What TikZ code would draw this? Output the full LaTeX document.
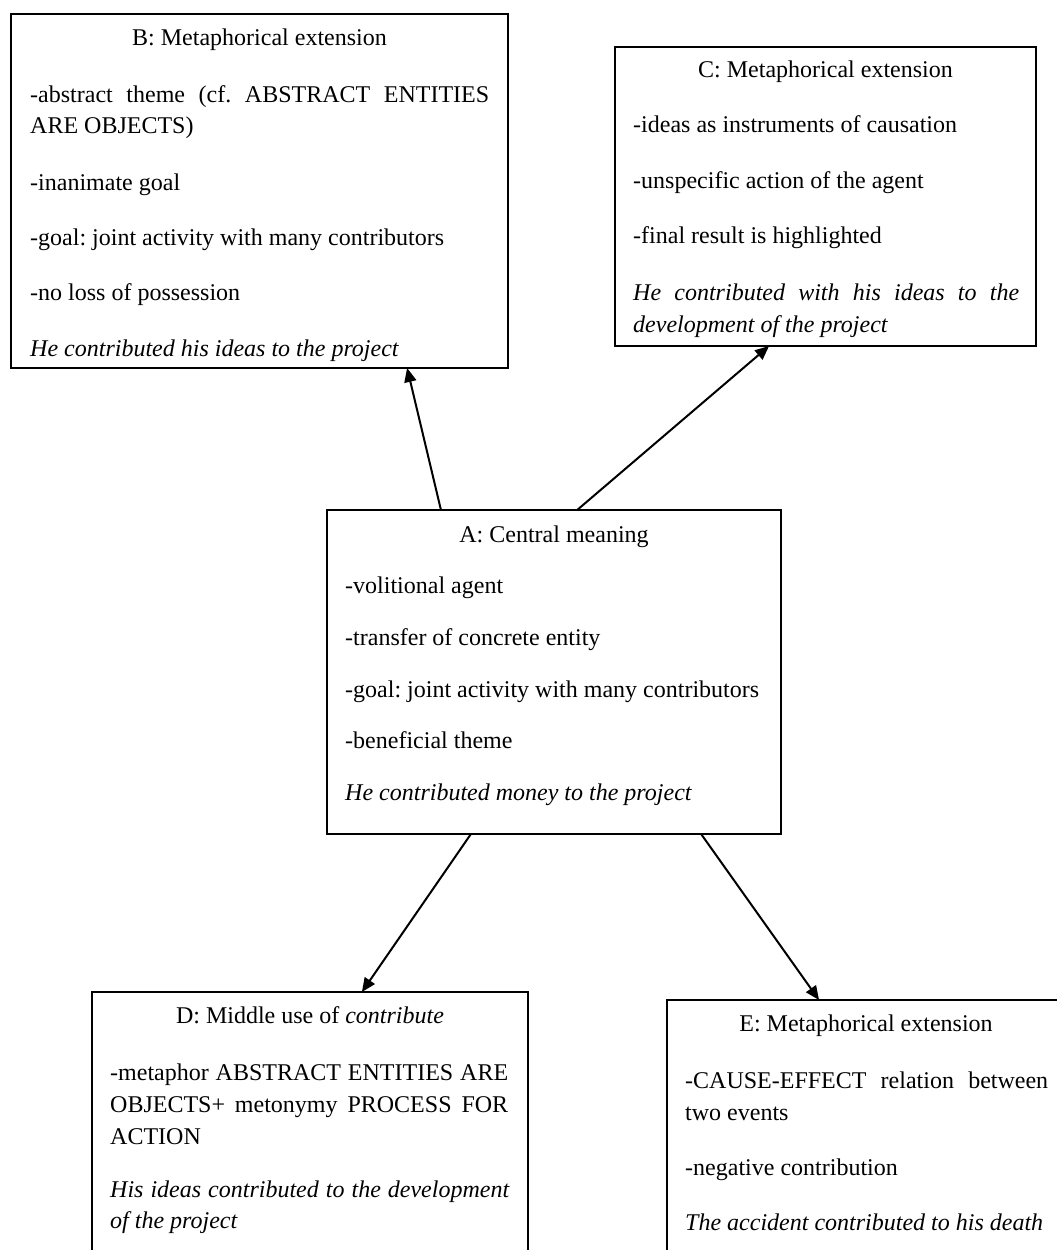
\documentclass[tikz,border=0pt]{standalone}
\usepackage{fontspec}
\setmainfont{Liberation Serif}
\usetikzlibrary{calc,arrows.meta}
\frenchspacing

\begin{document}
\begin{tikzpicture}[x=1pt,y=-1pt,
  box/.style={draw, line width=1.6pt, inner sep=0pt, outer sep=0pt, anchor=north west},
  line/.style={anchor=base west, inner sep=0pt, font=\fontsize{24}{28}\selectfont},
  title/.style={anchor=base, inner sep=0pt, font=\fontsize{24}{28}\selectfont},
  example/.style={line, font=\fontsize{24}{28}\selectfont\itshape},
  link/.style={-{Triangle[length=14pt,width=12pt]}, line width=2pt}]

\useasboundingbox (0,0) rectangle (1057,1250);
\clip (0,0) rectangle (1057,1250);
\fill[white] (0,0) rectangle (1057,1250);

% frames of the five senses
\node[box, minimum width=497pt, minimum height=354pt] (B) at (11,14) {};
\node[box, minimum width=421pt, minimum height=299pt] (C) at (615,47) {};
\node[box, minimum width=454pt, minimum height=324pt] (A) at (327,510) {};
\node[box, minimum width=436pt, minimum height=300pt] (D) at (92,992) {};
\node[box, minimum width=398pt, minimum height=300pt] (E) at (667,1000) {};

% B: metaphorical extension
\node[title] (Bt) at (259.5,45) {B: Metaphorical extension};
\node[line] (B1) at (30,102) {\makebox[459pt][s]{-abstract theme (cf. ABSTRACT ENTITIES}};
\node[line] (B2) at (30,133) {ARE OBJECTS)};
\node[line] (B3) at (30,190) {-inanimate goal};
\node[line] (B4) at (30,245) {-goal: joint activity with many contributors};
\node[line] (B5) at (30,300) {-no loss of possession};
\node[example] (B6) at (30,356) {He contributed his ideas to the project};

% C: metaphorical extension
\node[title] (Ct) at (825.5,77) {C: Metaphorical extension};
\node[line] (C1) at (633,132) {-ideas as instruments of causation};
\node[line] (C2) at (633,188) {-unspecific action of the agent};
\node[line] (C3) at (633,243) {-final result is highlighted};
\node[example] (C4) at (633,300) {\makebox[386pt][s]{He contributed with his ideas to the}};
\node[example] (C5) at (633,332) {development of the project};

% A: central meaning
\node[title] (At) at (554,542) {A: Central meaning};
\node[line] (A1) at (345,593) {-volitional agent};
\node[line] (A2) at (345,645) {-transfer of concrete entity};
\node[line] (A3) at (345,697) {-goal: joint activity with many contributors};
\node[line] (A4) at (345,748) {-beneficial theme};
\node[example] (A5) at (345,800) {He contributed money to the project};

% D: middle use
\node[title] (Dt) at (310,1023) {D: Middle use of \textit{contribute}};
\node[line] (D1) at (110,1080) {\makebox[398pt][s]{-metaphor ABSTRACT ENTITIES ARE}};
\node[line] (D2) at (110,1112) {\makebox[398pt][s]{OBJECTS+ metonymy PROCESS FOR}};
\node[line] (D3) at (110,1144) {ACTION};
\node[example] (D4) at (110,1197) {\makebox[399pt][s]{His ideas contributed to the development}};
\node[example] (D5) at (110,1228) {of the project};

% E: metaphorical extension
\node[title] (Et) at (866,1031) {E: Metaphorical extension};
\node[line] (E1) at (685,1088) {\makebox[363pt][s]{-CAUSE-EFFECT relation between}};
\node[line] (E2) at (685,1120) {two events};
\node[line] (E3) at (685,1175) {-negative contribution};
\node[example] (E4) at (685,1230) {The accident contributed to his death};

% extensions from the central meaning
\draw[link] ($(A.north west)!0.251!(A.north east)$) -- ($(B.south west)!0.797!(B.south east)$);
\draw[link] ($(A.north west)!0.551!(A.north east)$) -- ($(C.south west)!0.366!(C.south east)$);
\draw[link] ($(A.south west)!0.317!(A.south east)$) -- ($(D.north west)!0.619!(D.north east)$);
\draw[link] ($(A.south west)!0.824!(A.south east)$) -- ($(E.north west)!0.382!(E.north east)$);
\end{tikzpicture}
\end{document}
